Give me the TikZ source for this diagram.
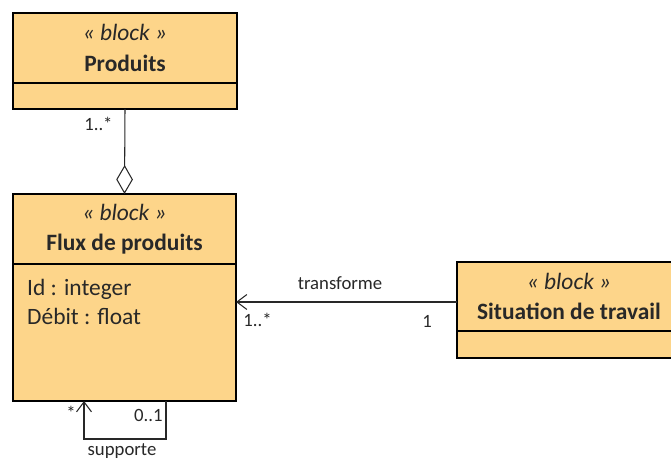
\documentclass[tikz,border=0pt]{standalone}
\usepackage{fontspec}
\setmainfont{Carlito}
\usetikzlibrary{positioning,arrows.meta}
\definecolor{blockfill}{RGB}{253,213,138}
\definecolor{inkgray}{RGB}{40,40,40}
\newdimen\px \px=0.03cm

\begin{document}
\begin{tikzpicture}[x=\px, y=-\px,
    blockhead/.style={draw, line width=1.6pt, fill=blockfill, align=center, inner sep=0pt, outer sep=0pt,
      font=\fontsize{20}{26}\selectfont, text=inkgray},
    blockcomp/.style={draw, line width=1.6pt, fill=blockfill, inner sep=0pt, outer sep=0pt},
    attr/.style={anchor=base west, inner sep=0pt, font=\fontsize{20}{24}\selectfont, text=inkgray},
    assoc/.style={line width=0.9pt, color=inkgray},
    lbl/.style={font=\fontsize{16}{19}\selectfont, text=inkgray, inner sep=1pt}]

    \useasboundingbox (0,0) rectangle (671,459);

    % blocks
    \node[blockhead, anchor=north west, minimum width=224\px, minimum height=70\px] (produits) at (13,13)
      {\textit{« block »}\\\textbf{Produits}};
    \node[blockcomp, below=0pt of produits, minimum width=224\px, minimum height=26\px] (produitsB) {};

    \node[blockhead, anchor=north west, minimum width=223\px, minimum height=70\px] (flux) at (13,194)
      {\textit{« block »}\\\textbf{Flux de produits}};
    \node[blockcomp, below=0pt of flux, minimum width=223\px, minimum height=137\px] (fluxB) {};
    \node[attr] (attrId) at (27,296) {Id : integer};
    \node[attr] (attrDebit) at (27,325) {Débit : float};

    \node[blockhead, anchor=north west, minimum width=224\px, minimum height=69\px] (situation) at (457,262)
      {\textit{« block »}\\\textbf{Situation de travail}};
    \node[blockcomp, below=0pt of situation, minimum width=224\px, minimum height=27\px] (situationB) {};

    % aggregation
    \draw[assoc, -{Diamond[open, length=0.87cm, width=0.5cm]}] (produitsB.south) -- (flux.north);
    \node[lbl, anchor=east] at (114,124) {1..*};

    % transforme
    \coordinate (trS) at (situation.west |- 0,302);
    \coordinate (trE) at (fluxB.east |- 0,302);
    \draw[assoc, -{Straight Barb[length=0.3cm, width=0.45cm]}] (trS) -- (trE);
    \node[lbl] at (340,283) {transforme};
    \node[lbl, anchor=west] at (242,320) {1..*};
    \node[lbl] at (427,321) {1};

    % supporte
    \coordinate (loopS) at (fluxB.south -| 166,0);
    \coordinate (loopE) at (fluxB.south -| 84,0);
    \draw[assoc, -{Straight Barb[length=0.3cm, width=0.45cm]}] (loopS) -- ++(0,38) -| (loopE);
    \node[lbl] at (71,413) {*};
    \node[lbl, anchor=east] at (164,415) {0..1};
    \node[lbl] at (122,451) {supporte};
\end{tikzpicture}
\end{document}
